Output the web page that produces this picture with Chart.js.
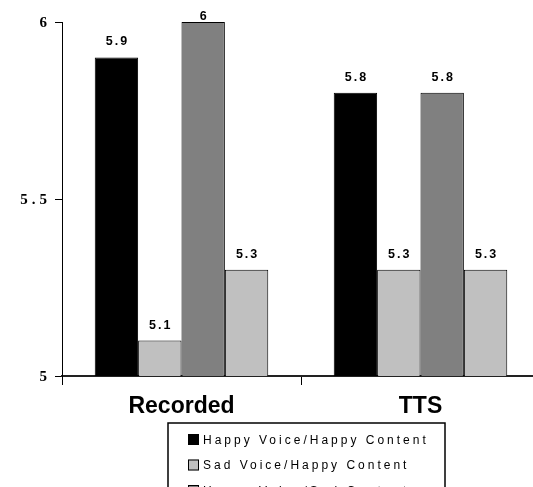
<!DOCTYPE html>
<html>
<head>
<meta charset="utf-8">
<script src="https://cdn.jsdelivr.net/npm/chart.js@4/dist/chart.umd.min.js"></script>
<style>
  html, body { margin: 0; padding: 0; background: #fff; overflow: hidden; }
  #wrap { width: 533px; height: 487px; overflow: hidden; position: relative; }
  canvas { display: block; }
</style>
</head>
<body>
<div id="wrap"><canvas id="c" width="545" height="540"></canvas></div>
<script>
// Mean ratings per voice source, split by voice/content emotion
const categories = ['Recorded', 'TTS'];
const seriesNames = [
  'Happy Voice/Happy Content',
  'Sad Voice/Happy Content',
  'Happy Voice/Sad Content',
  'Sad Voice/Sad Content'
];
const happyVoiceHappyContent = [5.9, 5.8];
const sadVoiceHappyContent = [5.1, 5.3];
const happyVoiceSadContent = [6, 5.8];
const sadVoiceSadContent = [5.3, 5.3];
const seriesColors = ['#000000', '#c0c0c0', '#808080', '#c0c0c0'];
const axisMin = 5, axisMax = 6, axisStep = 0.5;

const seriesValues = [happyVoiceHappyContent, sadVoiceHappyContent, happyVoiceSadContent, sadVoiceSadContent];

const SANS = '"Liberation Sans", Arial, sans-serif';
const SERIF = '"Liberation Serif", "Times New Roman", serif';

// Value labels above every bar, y tick labels and the boxed legend
const decorations = {
  id: 'decorations',
  afterDatasetsDraw(chart) {
    const ctx = chart.ctx;
    ctx.save();
    ctx.font = 'bold 12.5px ' + SANS;
    ctx.letterSpacing = '2px';
    ctx.fillStyle = '#000';
    ctx.textAlign = 'center';
    ctx.textBaseline = 'alphabetic';
    chart.data.datasets.forEach((ds, di) => {
      chart.getDatasetMeta(di).data.forEach((bar, i) => {
        // sit 12px above the bar, but never climb above the top band
        const baseline = Math.max(bar.y - 12, 20);
        ctx.fillText(String(ds.data[i]), bar.x + 1, baseline);
      });
    });
    ctx.restore();
  },
  afterDraw(chart) {
    const ctx = chart.ctx;
    const ys = chart.scales.y;
    // y tick labels
    ctx.save();
    ctx.font = 'bold 15px ' + SERIF;
    ctx.letterSpacing = '4px';
    ctx.fillStyle = '#000';
    ctx.textAlign = 'right';
    ctx.textBaseline = 'middle';
    ys.ticks.forEach(t => {
      ctx.fillText(String(t.value), ys.right - 15 + 4, ys.getPixelForValue(t.value) + 1.5);
    });
    ctx.restore();

    // legend box
    const left = 168, top = 423, width = 277, rowH = 25.5;
    const n = chart.data.datasets.length;
    ctx.save();
    ctx.fillStyle = '#fff';
    ctx.fillRect(left, top, width, rowH * n + 12);
    ctx.strokeStyle = '#000';
    ctx.lineWidth = 1.5;
    ctx.strokeRect(left, top, width, rowH * n + 12);
    ctx.font = '12px ' + SANS;
    ctx.letterSpacing = '3px';
    ctx.textAlign = 'left';
    ctx.textBaseline = 'middle';
    chart.data.datasets.forEach((ds, i) => {
      const cy = top + 16.5 + i * rowH;
      ctx.fillStyle = ds.backgroundColor;
      ctx.fillRect(188, cy - 5.5, 11, 11);
      ctx.lineWidth = 1;
      ctx.strokeStyle = '#000';
      ctx.strokeRect(188.5, cy - 5, 10, 10);
      ctx.fillStyle = '#000';
      ctx.fillText(ds.label, 203, cy + 1);
    });
    ctx.restore();
  }
};

new Chart(document.getElementById('c'), {
  type: 'bar',
  data: {
    labels: categories,
    datasets: seriesNames.map((name, i) => ({
      label: name,
      data: seriesValues[i],
      backgroundColor: seriesColors[i],
      borderColor: '#000',
      borderWidth: 1,
      barPercentage: 1.0,
      categoryPercentage: 0.726
    }))
  },
  options: {
    responsive: false,
    animation: false,
    devicePixelRatio: 1,
    layout: { padding: { top: 22, right: 5, bottom: 0, left: 0 } },
    plugins: {
      legend: { display: false },
      tooltip: { enabled: false }
    },
    scales: {
      x: {
        grid: { display: true, offset: true, drawOnChartArea: false, drawTicks: true, tickLength: 9, color: '#000', lineWidth: 1 },
        border: { display: true, color: '#222', width: 2 },
        ticks: { color: '#000', font: { family: SANS, size: 23, weight: 'bold' }, padding: 8 },
        afterFit(scale) { scale.height = 164; }
      },
      y: {
        min: axisMin,
        max: axisMax,
        ticks: { stepSize: axisStep, display: false },
        grid: { display: true, drawOnChartArea: false, drawTicks: true, tickLength: 7, color: '#000', lineWidth: 1 },
        border: { display: true, color: '#000', width: 1 },
        afterFit(scale) { scale.width = 62; }
      }
    }
  },
  plugins: [decorations]
});
</script>
</body>
</html>
